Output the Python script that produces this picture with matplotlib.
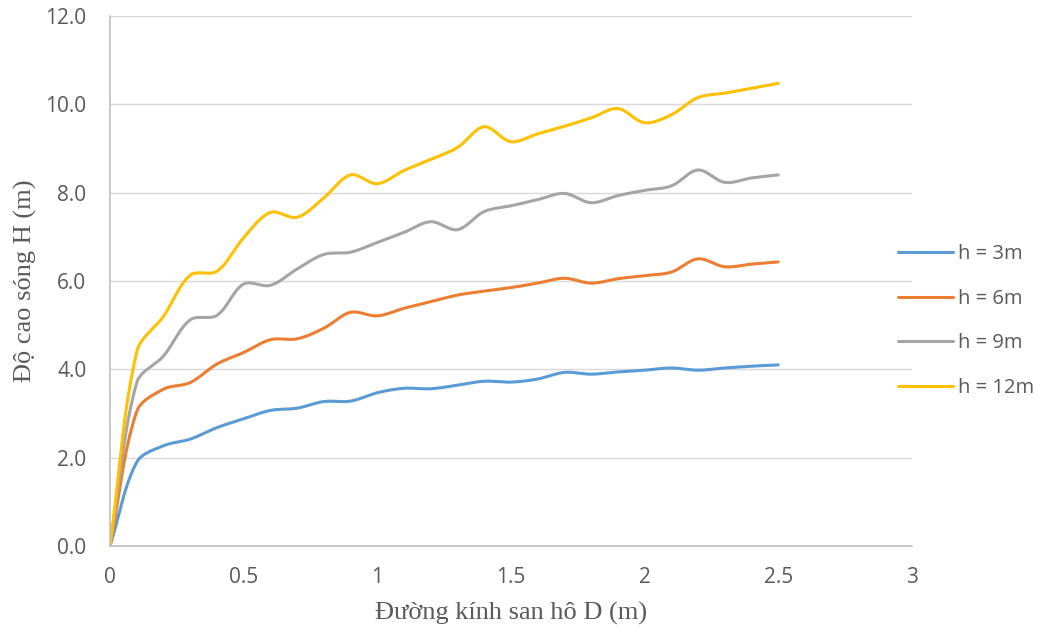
import numpy as np
import matplotlib.pyplot as plt

# coral diameter D (m) and wave height H (m) for each water depth
D = [0, 0.1, 0.2, 0.3, 0.4, 0.5, 0.6, 0.7, 0.8, 0.9, 1.0, 1.1, 1.2,
     1.3, 1.4, 1.5, 1.6, 1.7, 1.8, 1.9, 2.0, 2.1, 2.2, 2.3, 2.4, 2.5]

h3 = [0, 1.9, 2.27, 2.42, 2.68, 2.88, 3.07, 3.12, 3.27, 3.28, 3.47, 3.57, 3.56,
      3.64, 3.73, 3.71, 3.78, 3.93, 3.89, 3.94, 3.98, 4.03, 3.98, 4.03, 4.07, 4.1]
h6 = [0, 3.05, 3.55, 3.7, 4.12, 4.38, 4.67, 4.69, 4.93, 5.29, 5.21, 5.38, 5.53,
      5.68, 5.77, 5.85, 5.95, 6.06, 5.95, 6.05, 6.12, 6.2, 6.5, 6.32, 6.38, 6.43]
h9 = [0, 3.7, 4.3, 5.12, 5.22, 5.93, 5.9, 6.27, 6.6, 6.65, 6.87, 7.1, 7.34,
      7.16, 7.57, 7.7, 7.84, 7.98, 7.77, 7.93, 8.05, 8.15, 8.51, 8.23, 8.33, 8.4]
h12 = [0, 4.4, 5.2, 6.13, 6.22, 6.98, 7.55, 7.44, 7.88, 8.4, 8.2, 8.5, 8.75,
       9.02, 9.49, 9.15, 9.33, 9.5, 9.69, 9.9, 9.58, 9.76, 10.15, 10.25, 10.36, 10.47]

labels = ["h = 3m", "h = 6m", "h = 9m", "h = 12m"]
colors = ["#5B9BD5", "#ED7D31", "#A5A5A5", "#FFC000"]

# pixels per data unit, used so the smoothing works on screen distances
SX, SY = 267.3, 44.17


def smooth(x, y, n=24, k=1 / 3):
    # bezier smoothing with control arms weighted by neighbouring segment lengths
    p = np.column_stack([np.asarray(x, float) * SX, np.asarray(y, float) * SY])
    pts = np.vstack([p[0], p, p[-1]])
    t = np.linspace(0, 1, n, endpoint=False)[:, None]
    out = []
    for i in range(1, len(pts) - 2):
        p0, p1, p2, p3 = pts[i - 1], pts[i], pts[i + 1], pts[i + 2]
        d01 = np.hypot(*(p1 - p0))
        d12 = np.hypot(*(p2 - p1))
        d23 = np.hypot(*(p3 - p2))
        w1 = d12 / (d01 + d12) if d01 + d12 > 0 else 0
        w2 = d12 / (d12 + d23) if d12 + d23 > 0 else 0
        c1 = p1 + (p2 - p0) * k * w1
        c2 = p2 - (p3 - p1) * k * w2
        seg = ((1 - t) ** 3 * p1 + 3 * (1 - t) ** 2 * t * c1
               + 3 * (1 - t) * t ** 2 * c2 + t ** 3 * p2)
        out.append(seg)
    out.append(p[-1:])
    out = np.vstack(out)
    return out[:, 0] / SX, out[:, 1] / SY


fig = plt.figure(figsize=(10.4, 6.32), dpi=100)
ax = fig.add_axes([0.1058, 0.136, 0.771, 0.839])

for ys, lab, c in zip([h3, h6, h9, h12], labels, colors):
    sx, sy = smooth(D, ys)
    ax.plot(sx, sy, color=c, lw=2.2, label=lab, solid_capstyle="round")

ax.set_xlim(0, 3)
ax.set_ylim(0, 12)
ax.set_xticks(np.arange(0, 3.01, 0.5))
ax.set_xticklabels(["0", "0.5", "1", "1.5", "2", "2.5", "3"])
ax.set_yticks(np.arange(0, 12.01, 2))
ax.set_yticklabels([f"{v:.1f}" for v in np.arange(0, 12.01, 2)])
ax.tick_params(length=0, labelsize=15, labelcolor="#595959")
ax.tick_params(axis="x", pad=15)
ax.tick_params(axis="y", pad=17)
for lab in ax.get_xticklabels() + ax.get_yticklabels():
    lab.set_family("Open Sans")

ax.grid(axis="y", color="#d9d9d9", lw=1)
ax.set_axisbelow(True)
for s in ["top", "right"]:
    ax.spines[s].set_visible(False)
for s in ["left", "bottom"]:
    ax.spines[s].set_color("#bfbfbf")
    ax.spines[s].set_linewidth(1.2)

ax.set_xlabel("Đường kính san hô D (m)", family="Liberation Serif",
              fontsize=19, color="#595959", labelpad=10)
ax.set_ylabel("Độ cao sóng H (m)", family="Liberation Serif",
              fontsize=19, color="#595959", labelpad=6)

leg = fig.legend(loc="center left", bbox_to_anchor=(0.854, 0.492), frameon=False,
                 borderpad=0, handlelength=2.7, labelspacing=1.22, handletextpad=0.25,
                 prop={"family": "Open Sans", "size": 14.5})
for t in leg.get_texts():
    t.set_color("#595959")

fig.savefig("out.png", dpi=100)
